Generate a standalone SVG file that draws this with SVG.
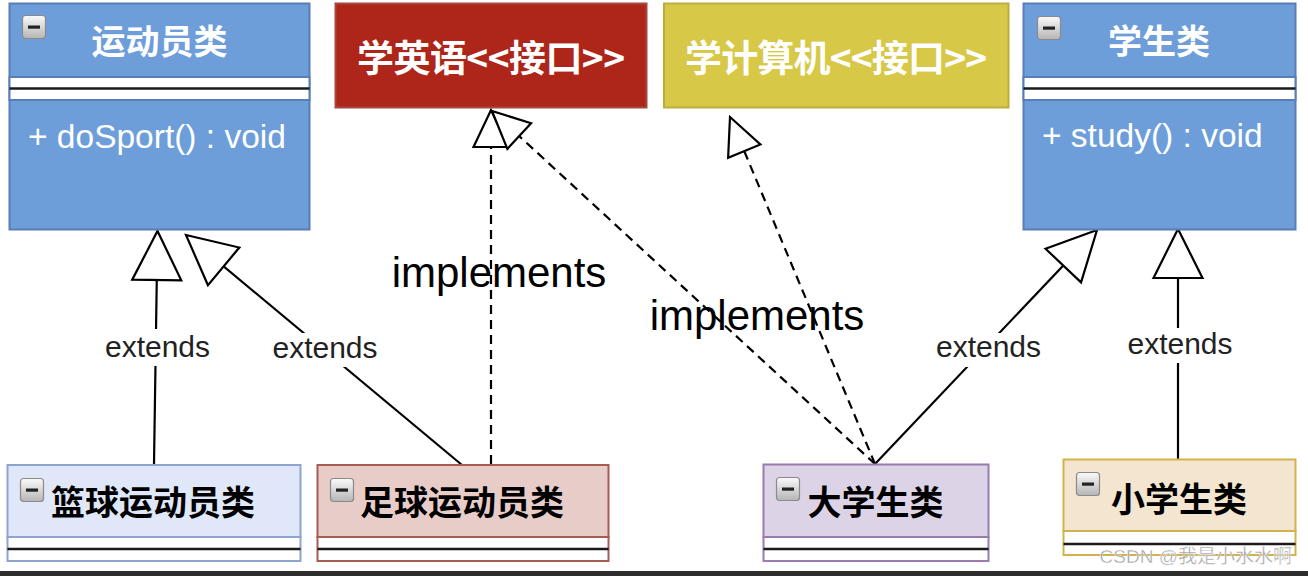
<svg xmlns="http://www.w3.org/2000/svg" xmlns:xlink="http://www.w3.org/1999/xlink" width="1308" height="576" viewBox="0 0 1308 576">
<style>
.cjk{font-family:"Noto Sans CJK SC","Noto Sans CJK TC",sans-serif;font-weight:bold;}
.lat{font-family:"Liberation Sans",Arial,sans-serif;}
.title-w{fill:#ffffff;font-size:34px;text-anchor:middle;}
.title-b{fill:#000000;font-size:34px;text-anchor:middle;}
.iface{fill:#ffffff;font-size:37px;text-anchor:middle;}
.method{fill:#ffffff;font-size:33.5px;}
.sep{fill:#ffffff;}
.sepline{stroke:#1a1a1a;stroke-width:2.5;}
.edge{stroke:#000;stroke-width:2.2;fill:none;}
.dash{stroke-dasharray:9 6;}
.lbl{font-family:"Liberation Sans",Arial,sans-serif;font-size:30px;fill:#222;text-anchor:middle;}
.impl{font-family:"Liberation Sans",Arial,sans-serif;font-size:42px;fill:#000;text-anchor:middle;}
.lblbg{fill:#ffffff;}
.box{stroke-width:2;}
</style>
<defs>
<linearGradient id="icg" x1="0" y1="0" x2="0" y2="1">
<stop offset="0" stop-color="#fafafa"/>
<stop offset="1" stop-color="#b5b5b5"/>
</linearGradient>
<g id="minus">
<rect x="0.5" y="0.5" width="23" height="23" rx="3" fill="url(#icg)" stroke="#8a8a8a" stroke-width="1.2"/>
<rect x="6" y="10.5" width="12" height="3.2" fill="#222"/>
</g>
<marker id="ext" markerUnits="userSpaceOnUse" markerWidth="60" markerHeight="60" refX="49" refY="24.5" orient="auto" overflow="visible">
<path d="M0,0 L49,24.5 L0,49 Z" fill="#fff" stroke="#000" stroke-width="2.2" stroke-dasharray="none" stroke-linejoin="miter"/>
</marker>
<marker id="imp" markerUnits="userSpaceOnUse" markerWidth="50" markerHeight="50" refX="37" refY="17.5" orient="auto" overflow="visible">
<path d="M0,0 L37,17.5 L0,35 Z" fill="#fff" stroke="#000" stroke-width="2.2" stroke-dasharray="none" stroke-linejoin="miter"/>
</marker>
</defs>
<rect x="0" y="0" width="1308" height="576" fill="#ffffff"/>

<g id="connectors">
<path class="edge" d="M154,464 L157.5,231" marker-end="url(#ext)"/>
<path class="edge" d="M462,465 L186,235" marker-end="url(#ext)"/>
<path class="edge" d="M875,464 L1097,230" marker-end="url(#ext)"/>
<path class="edge" d="M1178,459 L1178,229" marker-end="url(#ext)"/>
<path class="edge dash" d="M491,464 L491,110" marker-end="url(#imp)"/>
<path class="edge dash" d="M875,464 L492,111" marker-end="url(#imp)"/>
<path class="edge dash" d="M875,464 L730,117" marker-end="url(#imp)"/>
<rect class="lblbg" x="102" y="329" width="111" height="37"/>
<text class="lbl" x="157.5" y="357">extends</text>
<rect class="lblbg" x="271" y="333" width="109" height="34"/>
<text class="lbl" x="325" y="358">extends</text>
<rect class="lblbg" x="934" y="333" width="109" height="34"/>
<text class="lbl" x="988.5" y="357">extends</text>
<rect class="lblbg" x="1125" y="328" width="110" height="35"/>
<text class="lbl" x="1180" y="354">extends</text>
<text class="impl" x="499" y="287">implements</text>
<text class="impl" x="757" y="330">implements</text>
</g>

<g id="athlete">
<rect class="box" x="9.5" y="3.5" width="300" height="226" fill="#6d9eda" stroke="#5a7db5"/>
<rect class="sep box" x="9.5" y="77" width="300" height="23" stroke="#5a7db5"/>
<line class="sepline" x1="9.5" y1="88.5" x2="309.5" y2="88.5"/>
<use xlink:href="#minus" x="22" y="15"/>
<text class="cjk title-w" x="159.5" y="54">运动员类</text>
<text class="lat method" x="28" y="148">+ doSport() : void</text>
</g>

<g id="learn-english">
<rect class="box" x="335.5" y="3.5" width="311" height="104" fill="#ae2519" stroke="#a8473f"/>
<text class="cjk iface" x="491" y="72" textLength="268" lengthAdjust="spacing">学英语&lt;&lt;接口&gt;&gt;</text>
</g>

<g id="learn-computer">
<rect class="box" x="664" y="3.5" width="344.5" height="104" fill="#d8c847" stroke="#bcae3c"/>
<text class="cjk iface" x="836" y="72" textLength="302" lengthAdjust="spacing">学计算机&lt;&lt;接口&gt;&gt;</text>
</g>

<g id="student">
<rect class="box" x="1023.5" y="3.5" width="272" height="226" fill="#6d9eda" stroke="#5a7db5"/>
<rect class="sep box" x="1023.5" y="77" width="272" height="23" stroke="#5a7db5"/>
<line class="sepline" x1="1023.5" y1="88.5" x2="1295.5" y2="88.5"/>
<use xlink:href="#minus" x="1037" y="16"/>
<text class="cjk title-w" x="1159" y="54">学生类</text>
<text class="lat method" x="1042" y="147">+ study() : void</text>
</g>

<g id="basketball">
<rect class="box" x="7.5" y="465" width="293" height="72" fill="#dfe7f8" stroke="#8ea3cd"/>
<rect class="sep box" x="7.5" y="537" width="293" height="24" stroke="#8ea3cd"/>
<line class="sepline" x1="7.5" y1="549" x2="300.5" y2="549"/>
<use xlink:href="#minus" x="20" y="478"/>
<text class="cjk title-b" x="153" y="515">篮球运动员类</text>
</g>

<g id="football">
<rect class="box" x="317.5" y="465" width="291" height="72" fill="#e8ccc8" stroke="#a65b53"/>
<rect class="sep box" x="317.5" y="537" width="291" height="24" stroke="#a65b53"/>
<line class="sepline" x1="317.5" y1="549" x2="608.5" y2="549"/>
<use xlink:href="#minus" x="330" y="478"/>
<text class="cjk title-b" x="462" y="515">足球运动员类</text>
</g>

<g id="college-student">
<rect class="box" x="763.5" y="464.5" width="225" height="72.5" fill="#dcd3e6" stroke="#9a7bb0"/>
<rect class="sep box" x="763.5" y="537" width="225" height="24" stroke="#9a7bb0"/>
<line class="sepline" x1="763.5" y1="549" x2="988.5" y2="549"/>
<use xlink:href="#minus" x="776" y="477"/>
<text class="cjk title-b" x="875.5" y="515">大学生类</text>
</g>

<g id="pupil">
<rect class="box" x="1063.5" y="459.5" width="232" height="71.5" fill="#f3e5cf" stroke="#d2b24d"/>
<rect class="sep box" x="1063.5" y="531" width="232" height="24" stroke="#d2b24d"/>
<line class="sepline" x1="1063.5" y1="544" x2="1295.5" y2="544"/>
<use xlink:href="#minus" x="1076" y="472"/>
<text class="cjk title-b" x="1179" y="512">小学生类</text>
</g>

<rect x="0" y="571" width="1308" height="5" fill="#2d2d2d"/>
<text x="1292" y="563" font-family="Liberation Sans, Noto Sans CJK SC, sans-serif" font-size="19" fill="#a0a0a0" stroke="#ffffff" stroke-width="0.4" text-anchor="end">CSDN @我是小水水啊</text>
</svg>
